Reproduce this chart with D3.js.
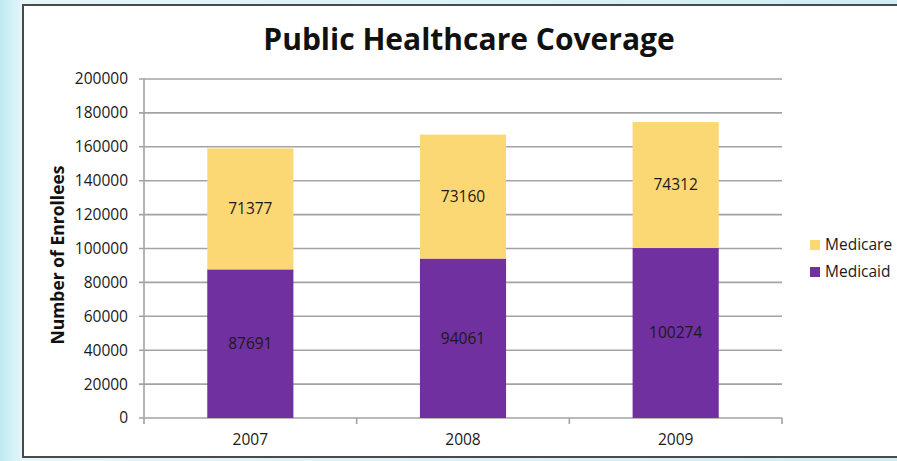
<!DOCTYPE html>
<html>
<head>
<meta charset="utf-8">
<script src="https://cdn.jsdelivr.net/npm/d3@7"></script>
<style>
  html, body { margin: 0; padding: 0; }
  body {
    width: 897px; height: 461px; overflow: hidden;
    background: linear-gradient(90deg, #bfe9f1 0px, #e4f6fa 22px, #d9f1f7 60%, #cdeef5 100%);
  }
  svg { display: block; }
</style>
</head>
<body>
<svg id="chart" width="897" height="461"></svg>
<script>
// data
const years = ["2007", "2008", "2009"];
const medicaid = [87691, 94061, 100274];
const medicare = [71377, 73160, 74312];
const seriesNames = ["Medicaid", "Medicare"];
const yTicks = [0, 20000, 40000, 60000, 80000, 100000, 120000, 140000, 160000, 180000, 200000];

const colors = { "Medicaid": "#7030a0", "Medicare": "#fcd874" };
const font = "'Open Sans', sans-serif";

const svg = d3.select("#chart");

// chart frame
svg.append("rect")
    .attr("x", 23).attr("y", 5)
    .attr("width", 900).attr("height", 452)
    .attr("fill", "#fff")
    .attr("stroke", "#4a4a4a")
    .attr("stroke-width", 2);

const plot = { left: 144, right: 782, top: 79, bottom: 418 };

const x = d3.scaleBand()
    .domain(years)
    .range([plot.left, plot.right])
    .paddingInner(0.595)
    .paddingOuter(0.2975);

const y = d3.scaleLinear()
    .domain([0, 200000])
    .range([plot.bottom, plot.top]);

// gridlines
svg.append("g")
    .selectAll("line")
    .data(yTicks)
    .enter().append("line")
    .attr("x1", plot.left - 5)
    .attr("x2", plot.right)
    .attr("y1", d => y(d))
    .attr("y2", d => y(d))
    .attr("stroke", "#a3a3a3")
    .attr("stroke-width", 1.6);

// y axis line
svg.append("line")
    .attr("x1", plot.left).attr("x2", plot.left)
    .attr("y1", plot.top).attr("y2", plot.bottom)
    .attr("stroke", "#a3a3a3")
    .attr("stroke-width", 1.6);

// x axis boundary ticks
const bounds = d3.range(years.length + 1).map(i => plot.left + i * x.step());
svg.append("g")
    .selectAll("line")
    .data(bounds)
    .enter().append("line")
    .attr("x1", d => d).attr("x2", d => d)
    .attr("y1", plot.bottom).attr("y2", plot.bottom + 6)
    .attr("stroke", "#a3a3a3")
    .attr("stroke-width", 1.6);

// y tick labels
svg.append("g")
    .selectAll("text")
    .data(yTicks)
    .enter().append("text")
    .attr("x", plot.left - 16)
    .attr("y", d => y(d))
    .attr("dy", "0.35em")
    .attr("text-anchor", "end")
    .attr("font-family", font)
    .attr("font-size", 15.5)
    .attr("fill", "#1a1a1a")
    .text(d => d);

// x labels
svg.append("g")
    .selectAll("text")
    .data(years)
    .enter().append("text")
    .attr("x", d => x(d) + x.bandwidth() / 2)
    .attr("y", 445)
    .attr("text-anchor", "middle")
    .attr("font-family", font)
    .attr("font-size", 15.5)
    .attr("fill", "#1a1a1a")
    .text(d => d);

// stacked bars
const table = years.map((yr, i) => ({ year: yr, Medicaid: medicaid[i], Medicare: medicare[i] }));
const stacked = d3.stack().keys(seriesNames)(table);

const layers = svg.append("g")
    .selectAll("g")
    .data(stacked)
    .enter().append("g")
    .attr("fill", d => colors[d.key]);

layers.selectAll("rect")
    .data(d => d)
    .enter().append("rect")
    .attr("x", d => x(d.data.year))
    .attr("width", x.bandwidth())
    .attr("y", d => y(d[1]))
    .attr("height", d => y(d[0]) - y(d[1]));

layers.selectAll("text")
    .data(d => d)
    .enter().append("text")
    .attr("x", d => x(d.data.year) + x.bandwidth() / 2)
    .attr("y", d => (y(d[0]) + y(d[1])) / 2)
    .attr("dy", "0.35em")
    .attr("text-anchor", "middle")
    .attr("font-family", font)
    .attr("font-size", 15.5)
    .attr("fill", "#1a1a1a")
    .text(d => d[1] - d[0]);

// title
svg.append("text")
    .attr("x", 469)
    .attr("y", 50)
    .attr("text-anchor", "middle")
    .attr("font-family", font)
    .attr("font-weight", 700)
    .attr("font-size", 30)
    .attr("fill", "#111")
    .text("Public Healthcare Coverage");

// y axis title
svg.append("text")
    .attr("transform", "translate(64,255) rotate(-90)")
    .attr("text-anchor", "middle")
    .attr("font-family", font)
    .attr("font-weight", 700)
    .attr("font-size", 17.5)
    .attr("fill", "#111")
    .text("Number of Enrollees");

// legend
const legendItems = ["Medicare", "Medicaid"];
const legend = svg.append("g")
    .selectAll("g")
    .data(legendItems)
    .enter().append("g")
    .attr("transform", (d, i) => `translate(810,${245 + i * 27})`);

legend.append("rect")
    .attr("x", 0).attr("y", -5)
    .attr("width", 10).attr("height", 10)
    .attr("fill", d => colors[d]);

legend.append("text")
    .attr("x", 15)
    .attr("dy", "0.35em")
    .attr("font-family", font)
    .attr("font-size", 15.5)
    .attr("fill", "#1a1a1a")
    .text(d => d);
</script>
</body>
</html>
